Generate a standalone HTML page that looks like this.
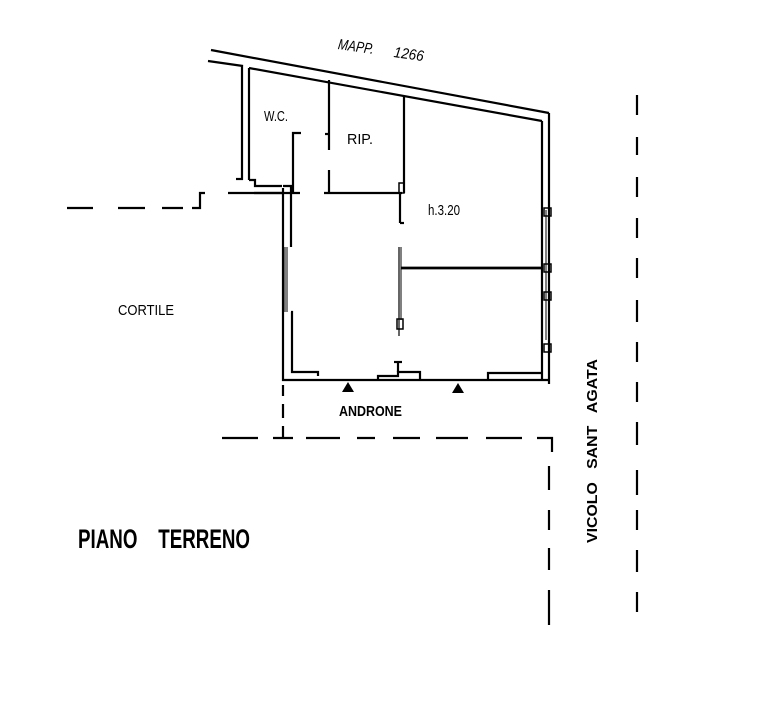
<!DOCTYPE html>
<html><head><style>
html,body{margin:0;padding:0;background:#fff;}
svg{display:block;}
text{font-family:"Liberation Sans",sans-serif;fill:#000;white-space:pre;}
</style></head><body>
<svg width="767" height="702" viewBox="0 0 767 702" xmlns="http://www.w3.org/2000/svg" xml:space="preserve">
<g stroke="#000" fill="none" stroke-width="2.2">
<line x1="211" y1="50" x2="549" y2="113"/>
<line x1="208" y1="61" x2="243" y2="66"/>
<line x1="249" y1="68" x2="542" y2="121"/>
<line x1="242" y1="65" x2="242" y2="180"/>
<line x1="249" y1="68" x2="249" y2="180"/>
<line x1="236" y1="179" x2="243" y2="179"/>
<path d="M249 180 H255 V186 H282"/>
<path d="M254 193 H282"/>
<path d="M228 193 H300"/>
<path d="M283 188 V380 H548"/>
<path d="M291 186 V247"/>
<path d="M283 186 H292 V193"/>
<line x1="287" y1="247" x2="287" y2="312" stroke-width="1"/>
<line x1="285" y1="247" x2="285" y2="312" stroke-width="1"/>
<path d="M291 312 H292 V372 H318 V376"/>
<path d="M301 133 H293 V193"/>
<line x1="329" y1="80" x2="329" y2="150"/>
<line x1="325" y1="134" x2="329" y2="134"/>
<line x1="329" y1="170" x2="329" y2="193"/>
<line x1="324" y1="193" x2="402" y2="193"/>
<line x1="404" y1="96" x2="404" y2="193"/>
<rect x="399" y="183" width="5" height="10" stroke-width="1.5"/>
<line x1="400" y1="193" x2="400" y2="223"/>
<line x1="400" y1="223" x2="404" y2="223"/>
<line x1="399" y1="247" x2="399" y2="336" stroke-width="1.2"/>
<line x1="401" y1="247" x2="401" y2="320" stroke-width="1"/>
<rect x="397" y="319" width="6" height="10" stroke-width="1.5"/>
<line x1="401" y1="268" x2="543" y2="268" stroke-width="2.8"/>
<line x1="542" y1="121" x2="542" y2="380"/>
<line x1="549" y1="113" x2="549" y2="384"/>
<line x1="546" y1="210" x2="546" y2="340" stroke-width="1"/>
<rect x="544" y="208" width="7" height="8" stroke-width="1.5"/>
<rect x="544" y="264" width="7" height="8" stroke-width="1.5"/>
<rect x="544" y="292" width="7" height="8" stroke-width="1.5"/>
<rect x="544" y="344" width="7" height="8" stroke-width="1.5"/>
<path d="M378 380 V376 H398 V372 H420 V380"/>
<line x1="398" y1="362" x2="398" y2="372"/>
<line x1="394" y1="362" x2="402" y2="362"/>
<path d="M488 380 V373 H542"/>
<path d="M67 208 H93 M118 208 H145 M162 208 H183 M192 208 H200 V193 H205"/>
<path d="M222 438 H258 M273 438 H293 M306 438 H340 M357 438 H375 M393 438 H420 M436 438 H468 M486 438 H522 M537 438 H552 V452"/>
<path d="M283 385 V396 M283 404 V418 M283 426 V438"/>
<path d="M549 466 V490 M549 510 V530 M549 548 V570 M549 590 V625"/>
<path d="M637 95 V115 M637 137 V155 M637 177 V197 M637 218 V238 M637 258 V278 M637 300 V322 M637 342 V362 M637 382 V402 M637 422 V445 M637 470 V495 M637 510 V530 M637 550 V572 M637 592 V612"/>
</g>
<polygon points="342,392 354,392 348,382" fill="#000"/>
<polygon points="452,393 464,393 458,383" fill="#000"/>
<g font-size="15">
<text x="338" y="49" transform="rotate(8 338 45)" style="font-style:italic" textLength="36" lengthAdjust="spacingAndGlyphs">MAPP.</text>
<text x="394" y="57" transform="rotate(8 394 52)" style="font-style:italic" textLength="30" lengthAdjust="spacingAndGlyphs">1266</text>
<text x="264" y="121" textLength="24" lengthAdjust="spacingAndGlyphs">W.C.</text>
<text x="347" y="144" textLength="26" lengthAdjust="spacingAndGlyphs">RIP.</text>
<text x="428" y="215" textLength="32" lengthAdjust="spacingAndGlyphs">h.3.20</text>
<text x="118" y="315" textLength="56" lengthAdjust="spacingAndGlyphs">CORTILE</text>
<text x="339" y="416" font-weight="bold" textLength="63" lengthAdjust="spacingAndGlyphs">ANDRONE</text>
<text x="597" y="543" font-weight="bold" transform="rotate(-90 597 543)" textLength="184" lengthAdjust="spacingAndGlyphs">VICOLO   SANT   AGATA</text>
</g>
<text x="78" y="548" font-size="27" font-weight="bold" textLength="172" lengthAdjust="spacingAndGlyphs">PIANO    TERRENO</text>
</svg>
</body></html>
